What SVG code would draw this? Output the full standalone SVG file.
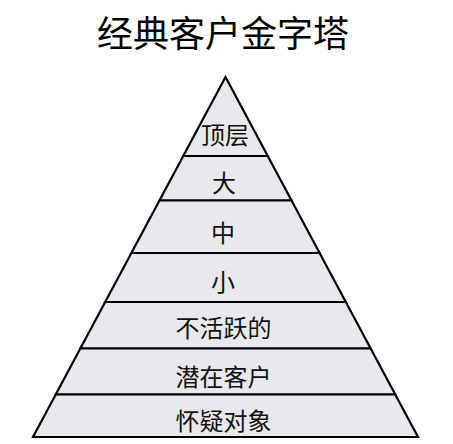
<svg xmlns="http://www.w3.org/2000/svg" width="453" height="444" viewBox="0 0 453 444">
<style>
.band{fill:#e9e8ec;stroke:#000;stroke-width:2.2;stroke-linejoin:miter}
.lbl{font-family:"Noto Sans CJK SC","Noto Sans CJK JP",sans-serif;font-size:24px;fill:#111;text-anchor:middle;dominant-baseline:central}
.title{font-family:"Noto Sans CJK SC","Noto Sans CJK JP",sans-serif;font-size:36px;font-weight:400;fill:#000;text-anchor:middle;dominant-baseline:central}
</style>
<rect width="453" height="444" fill="#fff"/>
<text class="title" x="223" y="31">经典客户金字塔</text>
<g id="top"><polygon class="band" points="225.5,77 267.74,156 183.26,156"/><text class="lbl" x="225" y="133">顶层</text></g>
<g id="large"><polygon class="band" points="183.26,156 267.74,156 291.54,200.5 159.46,200.5"/><text class="lbl" x="224" y="181">大</text></g>
<g id="medium"><polygon class="band" points="159.46,200.5 291.54,200.5 319.61,253 131.39,253"/><text class="lbl" x="223" y="231">中</text></g>
<g id="small"><polygon class="band" points="131.39,253 319.61,253 345.81,302 105.19,302"/><text class="lbl" x="223" y="280">小</text></g>
<g id="inactive"><polygon class="band" points="105.19,302 345.81,302 370.67,348.5 80.33,348.5"/><text class="lbl" x="223.5" y="326">不活跃的</text></g>
<g id="prospect"><polygon class="band" points="80.33,348.5 370.67,348.5 395.27,394.5 55.73,394.5"/><text class="lbl" x="223.5" y="375">潜在客户</text></g>
<g id="suspect"><polygon class="band" points="55.73,394.5 395.27,394.5 418,437 33,437"/><text class="lbl" x="223.5" y="419">怀疑对象</text></g>
<g id="connectors"></g>
</svg>
